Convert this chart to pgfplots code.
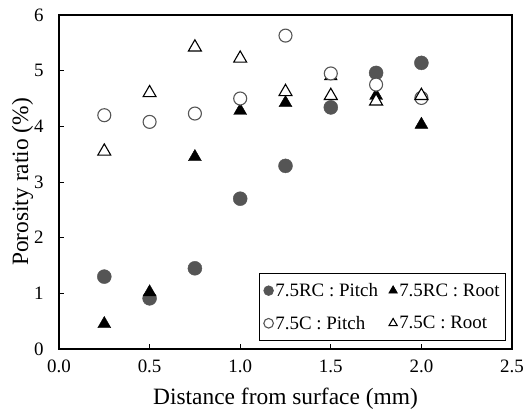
\documentclass[border=0pt]{standalone}
\usepackage{fontspec}
\setmainfont{Liberation Serif}
\usepackage{pgfplots}
\pgfplotsset{compat=1.18}
\definecolor{dgray}{HTML}{555555}
\begin{document}
\begin{tikzpicture}
\begin{axis}[
  at={(0,0)}, anchor=south west,
  scale only axis, width=453bp, height=334bp,
  xmin=0, xmax=2.5, ymin=0, ymax=6,
  xtick={0,0.5,1,1.5,2,2.5},
  ytick={0,1,2,3,4,5,6},
  /pgf/number format/assume math mode=true,
  tick label style={font=\fontsize{19}{19}\selectfont},
  xticklabel style={yshift=-7bp, /pgf/number format/.cd, fixed, fixed zerofill, precision=1},
  yticklabel style={xshift=-12bp},
  label style={font=\fontsize{23.5}{24}\selectfont},
  xlabel style={yshift=-9bp},
  ylabel style={yshift=-6bp},
  xlabel={Distance from surface (mm)},
  ylabel={Porosity ratio (\%)},
  tick align=inside, xtick pos=bottom, ytick pos=left,
  major tick length=5bp,
  axis line style={line width=1.3bp},
  every tick/.style={line width=0.8bp, black},
  legend columns=2,
  legend style={at={(0.987,0.024)}, anchor=south east, draw=black, line width=0.8bp,
    font=\fontsize{19}{19}\selectfont, inner xsep=4bp, inner ysep=8bp,
    /tikz/every even column/.append style={column sep=9bp},
    row sep=14bp},
  legend cell align=left,
  legend image code/.code={\draw[mark size=4.8bp] plot coordinates {(0.12cm,0cm)};},
]
\addplot[only marks, mark=*, mark size=7bp, draw=dgray, fill=dgray] coordinates {
(0.25,1.30) (0.5,0.91) (0.75,1.45) (1.0,2.70) (1.25,3.29) (1.5,4.34) (1.75,4.96) (2.0,5.14)};
\addlegendentry{7.5RC : Pitch}
\addplot[only marks, mark=triangle*, mark size=7.5bp, draw=black, fill=black] coordinates {
(0.25,0.45) (0.5,1.02) (0.75,3.45) (1.0,4.28) (1.25,4.42) (1.5,4.90) (1.75,4.55) (2.0,4.03)};
\addlegendentry{7.5RC : Root}
\addplot[only marks, mark=*, mark size=6.5bp, draw=dgray, fill=white, line width=1.1bp] coordinates {
(0.25,4.20) (0.5,4.08) (0.75,4.23) (1.0,4.50) (1.25,5.63) (1.5,4.95) (1.75,4.75) (2.0,4.51)};
\addlegendentry{7.5C : Pitch}
\addplot[only marks, mark=triangle*, mark size=7.5bp, draw=black, fill=white, line width=1.1bp] coordinates {
(0.25,3.55) (0.5,4.60) (0.75,5.42) (1.0,5.22) (1.25,4.62) (1.5,4.55) (1.75,4.45) (2.0,4.55)};
\addlegendentry{7.5C : Root}
\end{axis}
\pgfresetboundingbox
\path[use as bounding box] (-59bp,-65bp) rectangle (472bp,349bp);
\end{tikzpicture}
\end{document}
